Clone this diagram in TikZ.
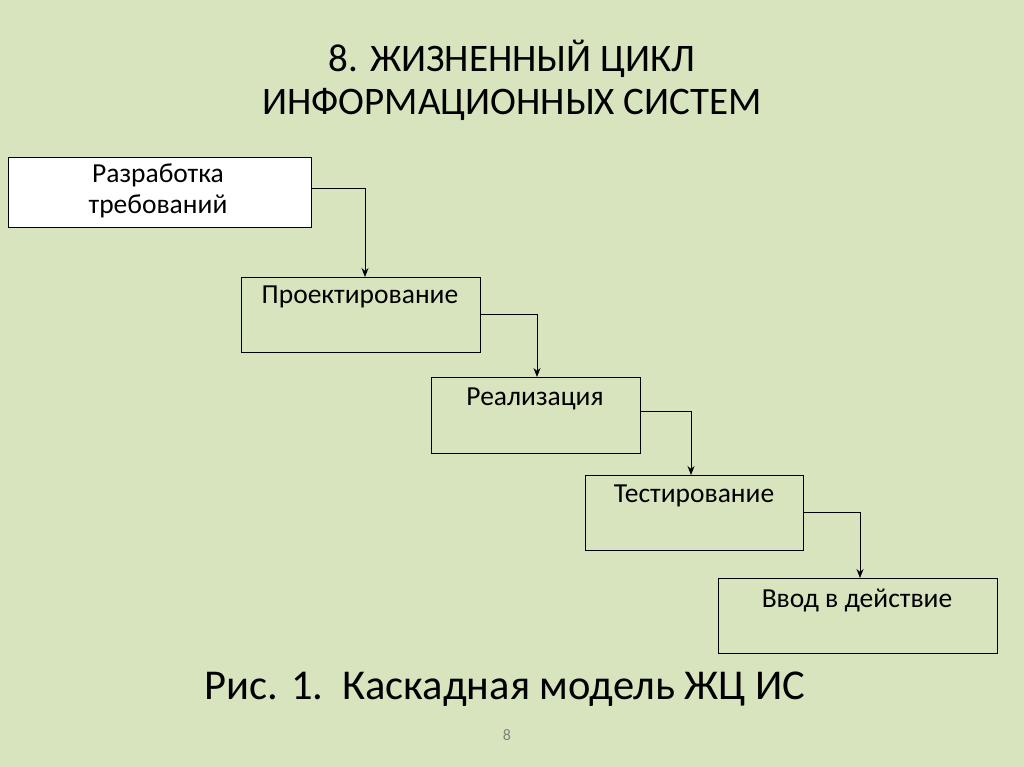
\documentclass[tikz,border=0pt]{standalone}
\usepackage{fontspec}
\setmainfont{Carlito}
\usetikzlibrary{arrows.meta}
\definecolor{bg}{RGB}{215,228,189}
\begin{document}
\begin{tikzpicture}[x=1pt,y=-1pt,
  stage/.style={draw=black,line width=1pt,anchor=north west,inner sep=0pt},
  lbl/.style={font=\fontsize{27.5}{31}\selectfont,align=center,anchor=north},
  conn/.style={line width=1pt,-{Stealth[length=9pt,width=7pt]}}]
\fill[bg] (0,0) rectangle (1024,767);
\useasboundingbox (0,0) rectangle (1024,767);
\node[font=\fontsize{39}{43}\selectfont,align=center] (title) at (512,80) {8. ЖИЗНЕННЫЙ ЦИКЛ\\ИНФОРМАЦИОННЫХ СИСТЕМ};
\node[stage,fill=white,minimum width=303pt,minimum height=70pt] (b1) at (8,157) {};
\node[stage,minimum width=239pt,minimum height=75pt] (b2) at (241,277) {};
\node[stage,minimum width=209pt,minimum height=76pt] (b3) at (431,377) {};
\node[stage,minimum width=218pt,minimum height=75pt] (b4) at (585,475) {};
\node[stage,minimum width=279pt,minimum height=75pt] (b5) at (718,578) {};
\node[lbl] (t1) at (158,160) {Разработка\\требований};
\node[lbl] (t2) at (360,282) {Проектирование};
\node[lbl] (t3) at (535,384) {Реализация};
\node[lbl] (t4) at (694,481) {Тестирование};
\node[lbl] (t5) at (857,585) {Ввод в действие};
\coordinate (c1) at (365,189); \coordinate (c2) at (537,314);
\coordinate (c3) at (691,411); \coordinate (c4) at (860,512);
\draw[conn] (b1.east |- c1) -- (c1) -- (c1 |- b2.north);
\draw[conn] (b2.east |- c2) -- (c2) -- (c2 |- b3.north);
\draw[conn] (b3.east |- c3) -- (c3) -- (c3 |- b4.north);
\draw[conn] (b4.east |- c4) -- (c4) -- (c4 |- b5.north);
\node[font=\fontsize{42.5}{46}\selectfont] (cap) at (505,689) {Рис. 1.\ \ Каскадная модель ЖЦ ИС};
\node[font=\fontsize{16}{18}\selectfont,text=gray] (pg) at (507,735) {8};
\end{tikzpicture}
\end{document}
